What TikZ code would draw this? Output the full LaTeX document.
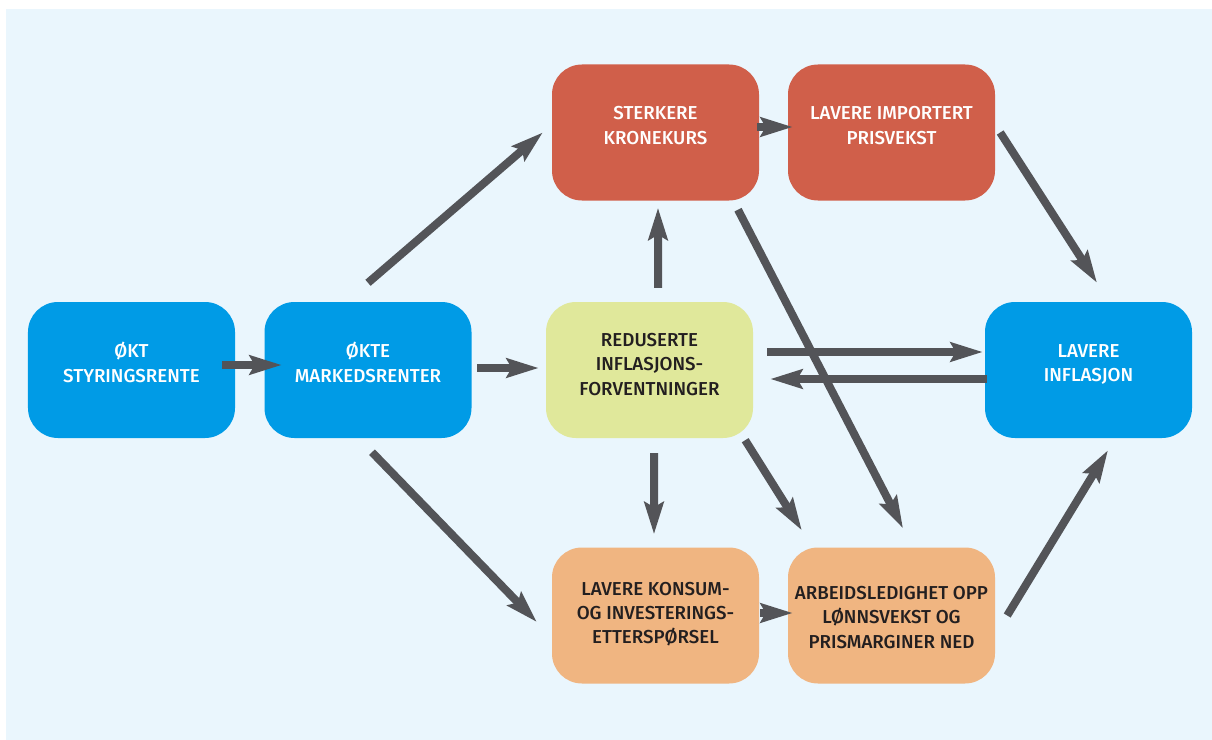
\documentclass[tikz,border=0pt]{standalone}
\usepackage{fontspec}
\setmainfont{Fira Sans}
\newfontfamily\lblfont{Fira Sans Medium}
\usetikzlibrary{arrows.meta}
\definecolor{bg}{HTML}{EAF6FD}
\definecolor{cblue}{HTML}{009BE6}
\definecolor{cred}{HTML}{D05F4A}
\definecolor{cyel}{HTML}{E0E89B}
\definecolor{corg}{HTML}{F0B581}
\definecolor{carr}{HTML}{535458}
\definecolor{ctxt}{HTML}{231F20}
\begin{document}
\begin{tikzpicture}[x=1bp,y=-1bp,
  box/.style={rounded corners=30bp, minimum width=207bp, minimum height=136bp, inner sep=0pt, draw=none},
  lbl/.style={align=center, font=\lblfont\fontsize{18.8}{24.3}\selectfont, inner sep=0pt},
  wlbl/.style={lbl, text=white},
  dlbl/.style={lbl, text=ctxt},
  arr/.style={draw=carr, line width=8bp, -{Stealth[length=32bp,width=19bp,inset=5bp]}}]
\fill[white] (0,0) rectangle (1212,740);
\fill[bg] (6,9) rectangle (1212,740);
\useasboundingbox (0,0) rectangle (1212,740);

% boxes
\node[box, fill=cblue] (b1) at (131.5,370) {};
\node[box, fill=cblue] (b2) at (368,370) {};
\node[box, fill=cyel]  (y)  at (649.5,370) {};
\node[box, fill=cblue] (b3) at (1088.5,370) {};
\node[box, fill=cred]  (r1) at (655.5,132.5) {};
\node[box, fill=cred]  (r2) at (891.5,132.5) {};
\node[box, fill=corg]  (o1) at (655.5,615.5) {};
\node[box, fill=corg]  (o2) at (891.5,615.5) {};

% labels
\node[wlbl] (t1) at ([yshift=7.5bp]b1.center) {ØKT\\STYRINGSRENTE};
\node[wlbl] (t2) at ([yshift=7.5bp]b2.center) {ØKTE\\MARKEDSRENTER};
\node[dlbl] (ty) at ([yshift=5.5bp]y.center) {REDUSERTE\\INFLASJONS-\\FORVENTNINGER};
\node[wlbl] (t3) at ([yshift=5.5bp]b3.center) {LAVERE\\INFLASJON};
\node[wlbl] (tr1) at ([yshift=7bp]r1.center) {STERKERE\\KRONEKURS};
\node[wlbl] (tr2) at ([yshift=7bp]r2.center) {LAVERE IMPORTERT\\PRISVEKST};
\node[dlbl] (to1) at ([yshift=1.5bp]o1.center) {LAVERE KONSUM-\\OG INVESTERINGS-\\ETTERSPØRSEL};
\node[dlbl] (to2) at ([yshift=-2bp]o2.center) {ARBEIDSLEDIGHET OPP\\LØNNSVEKST OG\\PRISMARGINER NED};

% connectors
\draw[arr] ([xshift=-13bp,yshift=5bp]b1.east) -- ([xshift=17.5bp,yshift=5bp]b2.west);
\draw[arr] ([xshift=5.5bp,yshift=2bp]b2.east) -- ([xshift=-7bp,yshift=2bp]y.west);
\draw[arr] ([yshift=19bp]b2.north) -- ([xshift=-9bp]r1.west);
\draw[arr] ([xshift=4bp,yshift=-14bp]b2.south) -- ([xshift=-15bp,yshift=-6.5bp]o1.west);
\draw[arr] ([xshift=8.5bp,yshift=14bp]y.north) -- ([xshift=2.5bp,yshift=-7bp]r1.south);
\draw[arr] ([xshift=4.5bp,yshift=-15bp]y.south) -- ([xshift=-1.5bp,yshift=13bp]o1.north);
\draw[arr] ([xshift=-8bp,yshift=-2bp]y.south east) -- ([xshift=14bp,yshift=17bp]o2.north west);
\draw[arr] ([xshift=82.5bp,yshift=-9bp]r1.south) -- ([xshift=11.5bp,yshift=19bp]o2.north);
\draw[arr] ([xshift=-2bp,yshift=5.5bp]r1.east) -- ([xshift=5bp,yshift=5.5bp]r2.west);
\draw[arr] ([xshift=5bp]r2.east) -- ([xshift=8.5bp,yshift=19bp]b3.north);
\draw[arr] ([xshift=14bp,yshift=18bp]y.east) -- ([xshift=-2bp,yshift=18bp]b3.west);
\draw[arr] ([xshift=2bp,yshift=-9bp]b3.west) -- ([xshift=17bp,yshift=-9bp]y.east);
\draw[arr] ([xshift=1bp,yshift=2.5bp]o1.east) -- ([xshift=5bp,yshift=2.5bp]o2.west);
\draw[arr] ([xshift=12bp]o2.east) -- ([xshift=19.5bp,yshift=-12bp]b3.south);
\end{tikzpicture}
\end{document}
